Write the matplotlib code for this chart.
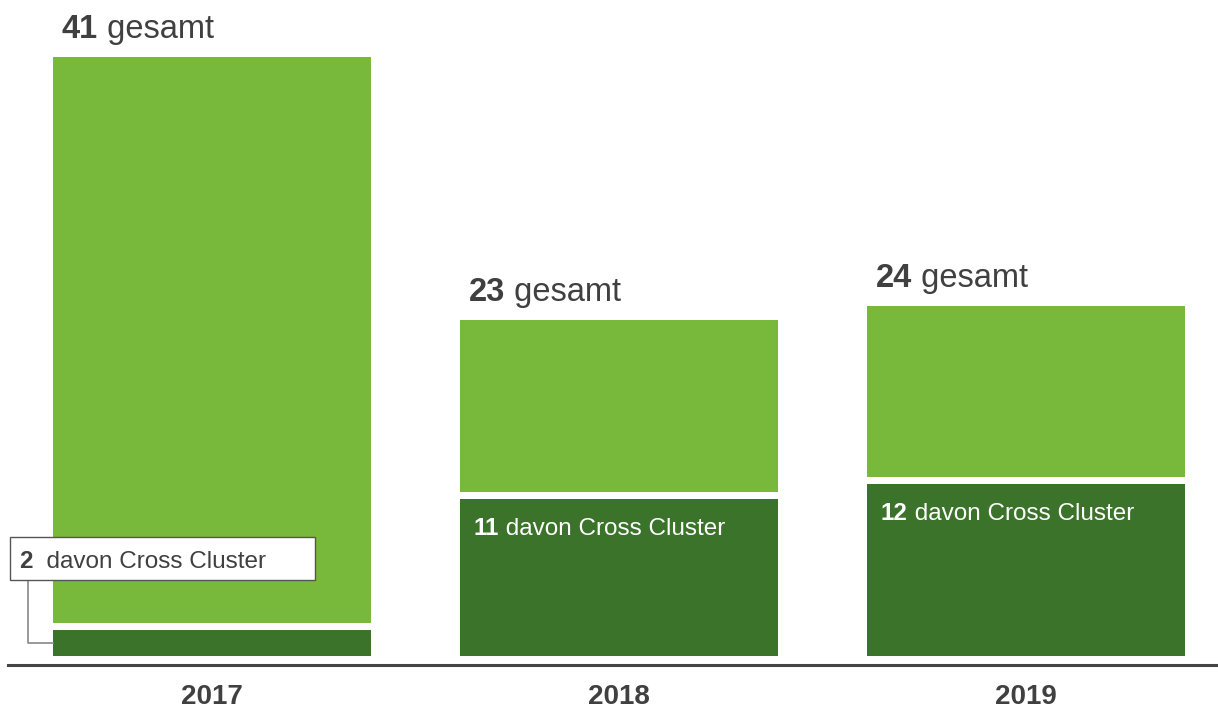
import matplotlib
matplotlib.use("Agg")
import matplotlib.pyplot as plt
from matplotlib.patches import Rectangle

years = ["2017", "2018", "2019"]
totals = [41, 23, 24]
cross = [2, 11, 12]
word_total = "gesamt"
word_cross = "davon Cross Cluster"

LIGHT = "#78b83a"
DARK = "#3b732a"
TEXT = "#404040"

plt.rcParams["font.family"] = ["Liberation Sans", "DejaVu Sans"]

W, H = 1218, 711
fig = plt.figure(figsize=(W / 100, H / 100), dpi=100)
px_per_unit = 14.6
ax = fig.add_axes([8 / W, (H - 665) / H, 1210 / W, 665 / H])
ax.set_xlim(-0.501, 2.472)
ax.set_ylim(-9 / px_per_unit, 656 / px_per_unit)
for s in ["top", "right", "left"]:
    ax.spines[s].set_visible(False)
ax.spines["bottom"].set_color("#444444")
ax.spines["bottom"].set_linewidth(2.2)
ax.set_xticks([])
ax.set_yticks([])

bw = 0.781
gap = 7 / px_per_unit
x = list(range(len(years)))
dark_h = [c - gap / 2 for c in cross]
light_b = [c + gap / 2 for c in cross]
light_h = [t - b for t, b in zip(totals, light_b)]
ax.bar(x, dark_h, width=bw, color=DARK, linewidth=0)
ax.bar(x, light_h, bottom=light_b, width=bw, color=LIGHT, linewidth=0)

fig.canvas.draw()
renderer = fig.canvas.get_renderer()


def two_part(xd, yd, num, word, dx, dy, size, color, space=" ", zorder=3):
    t1 = ax.annotate(num, xy=(xd, yd), xytext=(dx, dy), textcoords="offset pixels",
                     fontsize=size, fontweight="bold", color=color, va="baseline",
                     ha="left", zorder=zorder, annotation_clip=False)
    w = t1.get_window_extent(renderer).width
    ax.annotate(space + word, xy=(xd, yd), xytext=(dx + w, dy), textcoords="offset pixels",
                fontsize=size, color=color, va="baseline", ha="left", zorder=zorder,
                annotation_clip=False)


for i in range(len(years)):
    left = x[i] - bw / 2
    two_part(left, totals[i], str(totals[i]), word_total, 9, 19, 23.5, TEXT)
    ax.text(x[i], -2.8, years[i], ha="center", va="center", fontsize=20,
            fontweight="bold", color=TEXT, clip_on=False)

# 2018 / 2019: labels inside the dark segment
for i in (1, 2):
    left = x[i] - bw / 2
    two_part(left, cross[i] - gap / 2, str(cross[i]), word_cross, 14, -36, 17.5, "white")

# 2017: boxed label with connector line
i = 0
left = x[i] - bw / 2
bx0 = (10 - 8) / 1210 * 2.973 - 0.501
bx1 = (315 - 8) / 1210 * 2.973 - 0.501
by0 = (656 - 580) / px_per_unit
by1 = (656 - 537) / px_per_unit
ax.add_patch(Rectangle((bx0, by0), bx1 - bx0, by1 - by0, facecolor="white",
                       edgecolor="#555555", linewidth=1.0, zorder=4, clip_on=False))
cx = (28 - 8) / 1210 * 2.973 - 0.501
cy = (656 - 643) / px_per_unit
ax.plot([cx, cx, left], [by0, cy, cy], color="#888888", linewidth=1.2,
        zorder=3, clip_on=False)
two_part(bx0, (656 - 568) / px_per_unit, str(cross[i]), word_cross, 9, 0, 17.5, TEXT,
         space="  ", zorder=5)

fig.savefig("out.png", dpi=100, facecolor="white")
